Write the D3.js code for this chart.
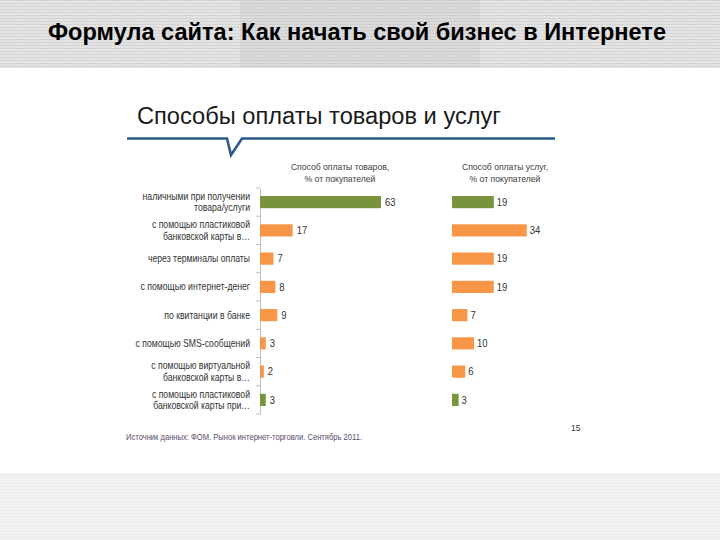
<!DOCTYPE html>
<html><head><meta charset="utf-8">
<script src="https://cdn.jsdelivr.net/npm/d3@7"></script>
<style>body{margin:0;background:#fff}svg{display:block}</style>
</head><body>
<svg id="c" width="720" height="540"></svg>
<script>
const pageTitle = "Формула сайта: Как начать свой бизнес в Интернете";
const chartTitle = "Способы оплаты товаров и услуг";
const goodsHeader = ["Способ оплаты товаров,", "% от покупателей"];
const servicesHeader = ["Способ оплаты услуг,", "% от покупателей"];
const categories = [
  ["наличными при получении", "товара/услуги"],
  ["с помощью пластиковой", "банковской карты в…"],
  ["через терминалы оплаты"],
  ["с помощью интернет-денег"],
  ["по квитанции в банке"],
  ["с помощью SMS-сообщений"],
  ["с помощью виртуальной", "банковской карты в…"],
  ["с помощью пластиковой", "банковской карты при…"]
];
const goodsValues = [63, 17, 7, 8, 9, 3, 2, 3];
const servicesValues = [19, 34, 19, 19, 7, 10, 6, 3];
const highlighted = [0, 7];
const sourceNote = "Источник данных: ФОМ. Рынок интернет-торговли. Сентябрь 2011.";
const pageNumber = "15";

const svg = d3.select("#c");
const FONT = "Liberation Sans, Arial, sans-serif";
const ORANGE = "#f79646", GREEN = "#77933c";

// backgrounds
const defs = svg.append("defs");
const pat = defs.append("pattern").attr("id","hp").attr("width",3).attr("height",3).attr("patternUnits","userSpaceOnUse");
pat.append("rect").attr("width",3).attr("height",3).attr("fill","#e6e6e6");
pat.append("rect").attr("width",3).attr("height",1).attr("fill","#d2d2d2");
pat.append("rect").attr("width",1).attr("height",3).attr("fill","#dcdcdc");
const pat2 = defs.append("pattern").attr("id","fp").attr("width",3).attr("height",3).attr("patternUnits","userSpaceOnUse");
pat2.append("rect").attr("width",3).attr("height",3).attr("fill","#f2f2f2");
pat2.append("rect").attr("width",3).attr("height",1).attr("fill","#ebebeb");

svg.append("rect").attr("x",0).attr("y",0).attr("width",720).attr("height",68).attr("fill","url(#hp)");
svg.append("rect").attr("x",240).attr("y",0).attr("width",240).attr("height",68).attr("fill","#000").attr("opacity",0.03);
svg.append("rect").attr("x",0).attr("y",473).attr("width",720).attr("height",67).attr("fill","url(#fp)");

svg.append("text").attr("x",48).attr("y",40).attr("font-family",FONT).attr("font-weight","bold")
  .attr("font-size",24).attr("fill","#000").attr("textLength",618).attr("lengthAdjust","spacingAndGlyphs").text(pageTitle);

// chart title
svg.append("text").attr("x",137).attr("y",124).attr("font-family",FONT).attr("font-size",23)
  .attr("fill","#1a1a1a").attr("textLength",364).attr("lengthAdjust","spacingAndGlyphs").text(chartTitle);
svg.append("path").attr("d","M127,138.5 L227,138.5 L231,155 L242,138.5 L555,138.5")
  .attr("fill","none").attr("stroke","#2b5a8c").attr("stroke-width",2.6).attr("stroke-linejoin","miter");

// narrow text helper
function ntext(x, yy, str, size, anchor, fill, sx){
  return svg.append("text").attr("transform",`translate(${x},${yy}) scale(${sx},1)`)
    .attr("text-anchor",anchor).attr("font-family",FONT).attr("font-size",size).attr("fill",fill).text(str);
}

// headers
function header(lines, cx){
  lines.forEach((l,i)=>ntext(cx,170+i*12,l,9.8,"middle","#404040",0.88));
}
header(goodsHeader, 340);
header(servicesHeader, 505);

const y = d3.scaleBand().domain(d3.range(categories.length)).range([188,414]).padding(0);
const barH = y.bandwidth()*0.43;
const xL = d3.scaleLinear().domain([0,100]).range([260,452]);
const xR = d3.scaleLinear().domain([0,100]).range([452,672]);
const color = i => highlighted.includes(i) ? GREEN : ORANGE;

// left axis
const axis = svg.append("g").attr("transform","translate(260,0)")
  .call(d3.axisLeft(y).tickValues([]).tickSizeOuter(0));
axis.select(".domain").attr("stroke","#bfbfbf");
svg.append("g").selectAll("line").data(d3.range(categories.length+1)).join("line")
  .attr("x1",256).attr("x2",260)
  .attr("y1",i=>188+i*y.step()).attr("y2",i=>188+i*y.step())
  .attr("stroke","#bfbfbf");

// category labels
categories.forEach((lines,i)=>{
  const cy = y(i)+y.bandwidth()/2;
  const n = lines.length;
  lines.forEach((l,j)=>ntext(250, cy + (j-(n-1)/2)*11.5 + 3.5, l, 10.2, "end", "#333", 0.85));
});

function bars(vals, x, gap){
  const g = svg.append("g");
  g.selectAll("rect").data(vals).join("rect")
    .attr("x",x(0)).attr("y",(d,i)=>y(i)+(y.bandwidth()-barH)/2)
    .attr("width",d=>x(d)-x(0)).attr("height",barH).attr("fill",(d,i)=>color(i));
  g.selectAll("text").data(vals).join("text")
    .attr("transform",(d,i)=>`translate(${x(d)+gap},${y(i)+y.bandwidth()/2+3.8}) scale(0.9,1)`)
    .attr("font-family",FONT).attr("font-size",10.5).attr("fill","#333").text(d=>d);
}
bars(goodsValues, xL, 4);
bars(servicesValues, xR, 3);

svg.append("text").attr("x",126).attr("y",440).attr("font-family",FONT).attr("font-size",9.5)
  .attr("fill","#5b4a6e").attr("textLength",236).attr("lengthAdjust","spacingAndGlyphs").text(sourceNote);
ntext(571,431,pageNumber,9.5,"start","#333",0.9);
</script>
</body></html>
